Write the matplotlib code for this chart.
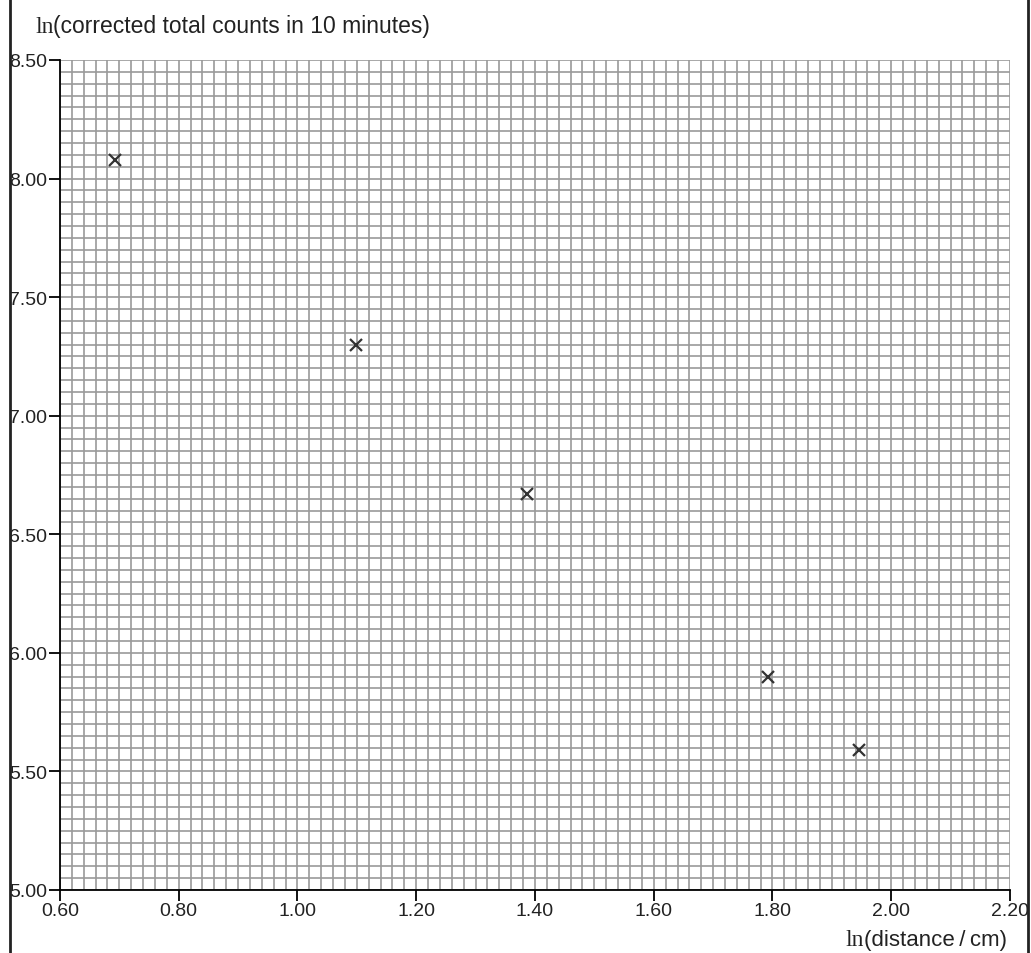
import matplotlib
matplotlib.use("Agg")
import matplotlib.pyplot as plt
from matplotlib.lines import Line2D
from matplotlib.ticker import MultipleLocator, FormatStrFormatter

# Data
ln_distance = [0.693, 1.099, 1.386, 1.792, 1.946]
ln_counts = [8.08, 7.30, 6.67, 5.90, 5.59]

x_ticks = [0.60, 0.80, 1.00, 1.20, 1.40, 1.60, 1.80, 2.00, 2.20]
y_ticks = [5.00, 5.50, 6.00, 6.50, 7.00, 7.50, 8.00, 8.50]

fig = plt.figure(figsize=(10.31, 9.54), dpi=100)
ax = fig.add_axes([60/1031, 1-891/954, 950/1031, 830/954])

ax.set_xlim(0.60, 2.20)
ax.set_ylim(5.00, 8.50)
ax.xaxis.set_minor_locator(MultipleLocator(0.02))
ax.yaxis.set_minor_locator(MultipleLocator(0.05))
ax.set_xticks(x_ticks)
ax.set_yticks(y_ticks)
ax.xaxis.set_major_formatter(FormatStrFormatter('%.2f'))
ax.yaxis.set_major_formatter(FormatStrFormatter('%.2f'))

ax.grid(True, which='both', color='#9a9a9a', linewidth=1.2, zorder=0)
ax.set_axisbelow(True)

for s in ['top', 'right']:
    ax.spines[s].set_visible(False)
for s in ['left', 'bottom']:
    ax.spines[s].set_color('black')
    ax.spines[s].set_linewidth(1.3)
    ax.spines[s].set_zorder(3)

ax.tick_params(which='major', direction='out', length=8, width=1.3, color='black',
               labelsize=14, labelcolor='#222222', pad=1)
ax.tick_params(which='minor', length=0)
for lab in ax.get_xticklabels() + ax.get_yticklabels():
    lab.set_fontfamily('Liberation Sans')

ax.plot(ln_distance, ln_counts, linestyle='none', marker='x', markersize=9,
        markeredgewidth=1.6, color='#333333', zorder=4)

# Axis labels (serif "ln" followed by sans text)
t1 = fig.text(35/1031, 1-33/954, 'ln', fontfamily='Liberation Serif', fontsize=17,
              color='#222222', va='baseline', ha='left')
ax.annotate('(corrected total counts in 10 minutes)', xy=(1, 0), xycoords=t1,
            va='bottom', ha='left', fontfamily='Liberation Sans', fontsize=16.5,
            color='#222222', annotation_clip=False)

t2 = fig.text(1007/1031, 1-946/954, '(distance\u2009/\u2009cm)', fontfamily='Liberation Sans',
              fontsize=16, color='#222222', va='baseline', ha='right')
ax.annotate('ln', xy=(0, 0), xycoords=t2, va='bottom', ha='right',
            fontfamily='Liberation Serif', fontsize=17, color='#222222',
            annotation_clip=False)

# Frame lines at the sides
fig.add_artist(Line2D([10/1031, 10/1031], [0, 1], color='#222222', linewidth=2,
                      transform=fig.transFigure))
fig.add_artist(Line2D([1028/1031, 1028/1031], [0, 1], color='#222222', linewidth=2,
                      transform=fig.transFigure))

fig.savefig('out.png', dpi=100)
